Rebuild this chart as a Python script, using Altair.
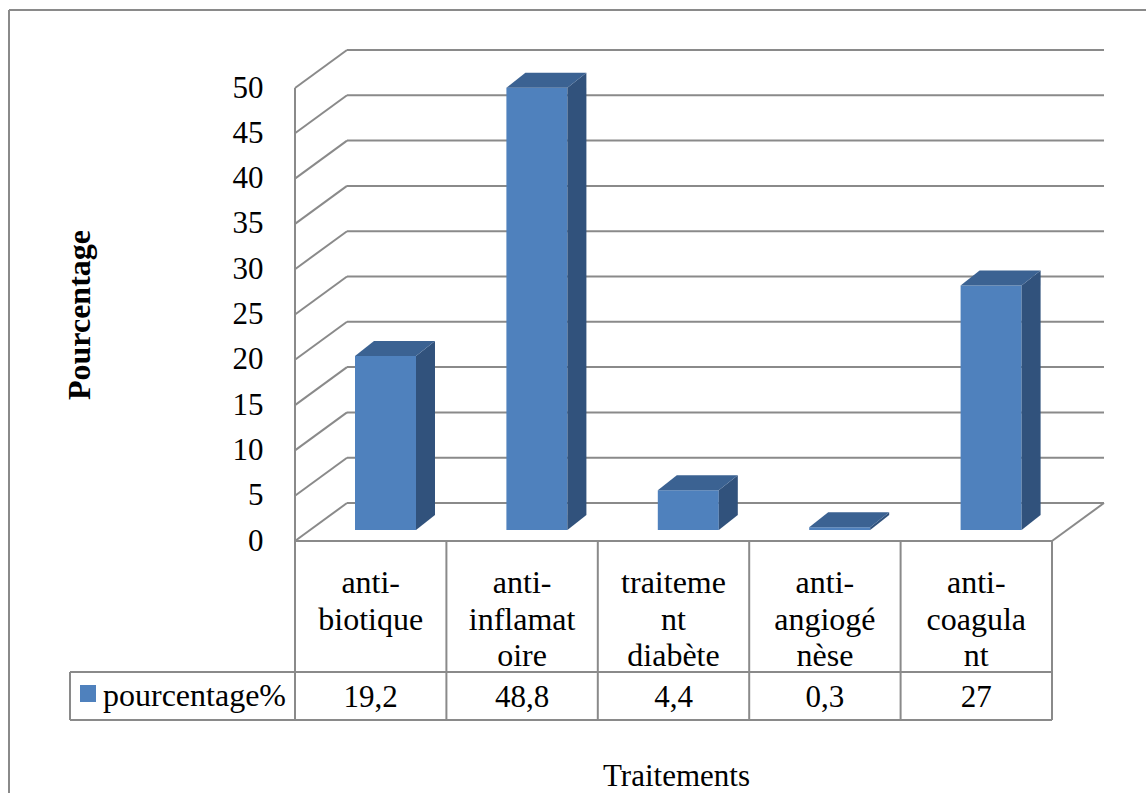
import altair as alt
import pandas as pd

# ---- data -----------------------------------------------------------------
categories = ["anti-biotique", "anti-inflamatoire", "traitement diabète",
              "anti-angiogénèse", "anti-coagulant"]
label_lines = ["anti-\nbiotique", "anti-\ninflamat\noire", "traiteme\nnt\ndiabète",
               "anti-\nangiogé\nnèse", "anti-\ncoagula\nnt"]
values = [19.2, 48.8, 4.4, 0.3, 27]
value_labels = ["19,2", "48,8", "4,4", "0,3", "27"]
y_ticks = list(range(0, 55, 5))
series_name = "pourcentage%"

# ---- geometry (pixels) ----------------------------------------------------
W, H = 757, 453                 # front plane of the plot
N = len(categories)
Y_MAX = 50
PX_X = W / N                    # pixels per category slot
PX_Y = H / Y_MAX                # pixels per percentage point


def ux(px):
    return px / PX_X


def uy(px):
    return px / PX_Y


WALL_DX, WALL_DY = 52, 38       # depth of floor / back wall
BAR_DX, BAR_DY = 19, 15         # depth of each column
BAR_LEFT, BAR_W = 60, 61        # column front face inside its slot
BAR_LIFT = 11                   # columns stand a bit behind the front edge
ROW1, ROW2 = 131, 179           # data table row bottoms below the floor
LEG_W = 225                     # legend cell width, left of the table

GRID = "#8a8a8a"
FRONT, SIDE, TOP = "#4F81BD", "#31527C", "#3B6292"
FONT = "Liberation Serif"

# ---- tables built from the arrays -----------------------------------------
front_rows, side_rows, top_rows = [], [], []
for i, (c, v) in enumerate(zip(categories, values)):
    xl = i + ux(BAR_LEFT)
    xr = i + ux(BAR_LEFT + BAR_W)
    b = uy(BAR_LIFT)
    front_rows.append(dict(cat=c, x=xl, x2=xr, y=b, y2=v + b))
    for k in (0, 1):
        side_rows.append(dict(cat=c, x=xr + k * ux(BAR_DX),
                              y=b + k * uy(BAR_DY), y2=v + b + k * uy(BAR_DY)))
        top_rows.append(dict(cat=c, y=v + b + k * uy(BAR_DY),
                             x=xl + k * ux(BAR_DX), x2=xr + k * ux(BAR_DX)))
front_df = pd.DataFrame(front_rows)
side_df = pd.DataFrame(side_rows)
top_df = pd.DataFrame(top_rows)

lines = []
for t in y_ticks:
    # back wall gridline and its trace on the left side wall
    lines.append(dict(x=ux(WALL_DX), y=t + uy(WALL_DY), x2=N + ux(WALL_DX), y2=t + uy(WALL_DY)))
    lines.append(dict(x=0, y=t, x2=ux(WALL_DX), y2=t + uy(WALL_DY)))
lines.append(dict(x=0, y=0, x2=0, y2=Y_MAX))                       # front axis
lines.append(dict(x=0, y=0, x2=N, y2=0))                           # floor front edge
lines.append(dict(x=N, y=0, x2=N + ux(WALL_DX), y2=uy(WALL_DY)))   # floor right edge
# data table grid
for i in range(N + 1):
    lines.append(dict(x=i, y=0, x2=i, y2=-uy(ROW2)))
for r in (ROW1, ROW2):
    lines.append(dict(x=-ux(LEG_W), y=-uy(r), x2=N, y2=-uy(r)))
lines.append(dict(x=-ux(LEG_W), y=-uy(ROW1), x2=-ux(LEG_W), y2=-uy(ROW2)))
lines_df = pd.DataFrame(lines)

text_df = pd.DataFrame(dict(
    x=[i + 0.5 for i in range(N)],
    lab=label_lines,
    val=value_labels,
    ly=[-uy(52)] * N,
    vy=[-uy(166)] * N,
))

legend_df = pd.DataFrame(dict(
    name=[series_name],
    sx=[-ux(215)], sx2=[-ux(199)], sy=[-uy(144)], sy2=[-uy(161)],
    tx=[-ux(192)], ty=[-uy(165)],
))

# ---- encodings ------------------------------------------------------------
xs = alt.Scale(domain=[0, N], nice=False, zero=False)
ys = alt.Scale(domain=[0, Y_MAX], nice=False, zero=False)
x_axis = alt.Axis(title="Traitements", labels=False, ticks=False, domain=False,
                  grid=False, titleFontSize=31, titleFontWeight="normal",
                  titleFont=FONT, titleColor="#000000", titleX=381, titleY=244,
                  titleBaseline="alphabetic", titleAlign="center")
y_axis = alt.Axis(title="Pourcentage", values=y_ticks, ticks=False, domain=False,
                  grid=False, labelFontSize=31, labelFont=FONT, labelColor="#000000",
                  labelPadding=32, titleFont=FONT, titleFontSize=32,
                  titleFontWeight="bold", titleColor="#000000", titleAngle=270,
                  titleX=-216, titleY=H / 2, titleAlign="center",
                  titleBaseline="middle")


def X(field):
    return alt.X(field, type="quantitative", scale=xs, axis=x_axis)


def Y(field):
    return alt.Y(field, type="quantitative", scale=ys, axis=y_axis)


grid = alt.Chart(lines_df).mark_rule(color=GRID, strokeWidth=2).encode(
    x=X("x"), y=Y("y"), x2="x2", y2="y2")

bars_front = alt.Chart(front_df).mark_rect(color=FRONT).encode(
    x=X("x"), x2="x2", y=Y("y"), y2="y2")

bars_side = alt.Chart(side_df).mark_area(color=SIDE, orient="vertical").encode(
    x=X("x"), y=Y("y"), y2="y2", detail="cat:N")

bars_top = alt.Chart(top_df).mark_area(color=TOP, orient="horizontal").encode(
    y=Y("y"), x=X("x"), x2="x2", detail="cat:N")

cat_text = alt.Chart(text_df).mark_text(
    font=FONT, fontSize=32, lineBreak="\n", lineHeight=36.5,
    align="center", baseline="alphabetic", color="#000000"
).encode(x=X("x"), y=Y("ly"), text="lab:N")

val_text = alt.Chart(text_df).mark_text(
    font=FONT, fontSize=31, align="center", baseline="alphabetic", color="#000000"
).encode(x=X("x"), y=Y("vy"), text="val:N")

legend_key = alt.Chart(legend_df).mark_rect(color=FRONT).encode(
    x=X("sx"), x2="sx2", y=Y("sy"), y2="sy2")

legend_text = alt.Chart(legend_df).mark_text(
    font=FONT, fontSize=32, align="left", baseline="alphabetic", color="#000000"
).encode(x=X("tx"), y=Y("ty"), text="name:N")

# chart frame (left and top edges of the surrounding box)
frame_left = alt.Chart(lines_df).mark_rule(color=GRID, strokeWidth=2).encode(
    x=alt.value(-286), y=alt.value(-78), y2=alt.value(720))
frame_top = alt.Chart(lines_df).mark_rule(color=GRID, strokeWidth=2).encode(
    x=alt.value(-286), x2=alt.value(860), y=alt.value(-78))

chart = alt.layer(
    grid, bars_front, bars_side, bars_top, cat_text, val_text,
    legend_key, legend_text, frame_left, frame_top
).properties(
    width=W, height=H,
    autosize=alt.AutoSizeParams(type="none"),
    padding={"left": 295, "top": 88, "right": 94, "bottom": 252},
    background="#ffffff",
).configure(
    font=FONT
).configure_text(
    font=FONT
).configure_axis(
    labelFont=FONT, titleFont=FONT
).configure_view(stroke=None)

chart.save("out.html", embed_options={"renderer": "svg", "actions": False})
